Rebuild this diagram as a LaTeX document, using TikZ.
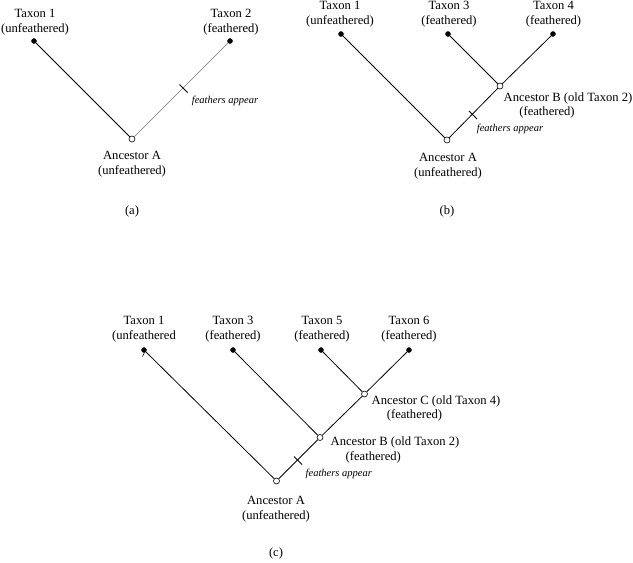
\documentclass[tikz,border=0pt]{standalone}
\usepackage{fontspec}
\setmainfont{Liberation Serif}
\begin{document}
\begin{tikzpicture}[x=1pt,y=-1pt,
  leaf/.style={circle,fill=black,draw=black,inner sep=0pt,minimum size=5pt},
  anc/.style={circle,fill=white,draw=black,line width=0.6pt,inner sep=0pt,minimum size=6pt},
  branch/.style={line width=0.8pt,black},
  lightbranch/.style={line width=0.6pt,black!55},
  tickmark/.style={line width=0.8pt,black},
  lbl/.style={align=center,inner sep=0pt,font=\fontsize{12.6}{15}\selectfont},
  txt/.style={inner sep=0pt,font=\fontsize{12.6}{15}\selectfont},
  feat/.style={inner sep=0pt,font=\fontsize{10.5}{12}\selectfont\itshape}]
\useasboundingbox[fill=white] (0,0) rectangle (633,563);

% ---------- (a) ----------
\node[leaf] (a1) at (34,41) {};
\node[leaf] (a2) at (230,41) {};
\node[anc] (aA) at (132,139) {};
\draw[branch] (aA) -- (a1);
\draw[lightbranch] (aA) -- (a2);
\coordinate (aT1) at (179.5,84.5);
\coordinate (aT2) at (187.5,92.5);
\draw[tickmark] (aT1) -- (aT2);
\node[lbl] (la1) at (35,22) {Taxon 1\\(unfeathered)};
\node[lbl] (la2) at (231,22) {Taxon 2\\(feathered)};
\node[lbl] (laA) at (132,164.5) {Ancestor A\\(unfeathered)};
\node[feat] (laf) at (225,101) {feathers appear};
\node[txt] (capa) at (132,211) {(a)};

% ---------- (b) ----------
\node[leaf] (b1) at (341,34) {};
\node[leaf] (b3) at (448,34) {};
\node[leaf] (b4) at (553,34) {};
\node[anc] (bB) at (500,86) {};
\node[anc] (bA) at (447,140) {};
\draw[branch] (bA) -- (b1);
\draw[branch] (bA) -- (bB);
\draw[branch] (bB) -- (b3);
\draw[branch] (bB) -- (b4);
\coordinate (bT1) at (469,111);
\coordinate (bT2) at (477,119);
\draw[tickmark] (bT1) -- (bT2);
\node[lbl] (lb1) at (340,14.5) {Taxon 1\\(unfeathered)};
\node[lbl] (lb3) at (449,14.5) {Taxon 3\\(feathered)};
\node[lbl] (lb4) at (553.5,14.5) {Taxon 4\\(feathered)};
\node[txt] (lbB1) at (568,98) {Ancestor B (old Taxon 2)};
\node[txt] (lbB2) at (547,112) {(feathered)};
\node[lbl] (lbA) at (448,166.5) {Ancestor A\\(unfeathered)};
\node[feat] (lbf) at (510,129.3) {feathers appear};
\node[txt] (capb) at (447,211) {(b)};

% ---------- (c) ----------
\node[leaf] (c1) at (144,350) {};
\node[leaf] (c3) at (233,350) {};
\node[leaf] (c5) at (321,350) {};
\node[leaf] (c6) at (409,350) {};
\node[anc] (cC) at (364.5,394) {};
\node[anc] (cB) at (320,437.5) {};
\node[anc] (cA) at (276.5,481) {};
\draw[branch] (cA) -- (c1);
\draw[branch] (cA) -- (cB);
\draw[branch] (cB) -- (c3);
\draw[branch] (cB) -- (cC);
\draw[branch] (cC) -- (c5);
\draw[branch] (cC) -- (c6);
\coordinate (cT1) at (294,456.5);
\coordinate (cT2) at (302,464.5);
\draw[tickmark] (cT1) -- (cT2);
\coordinate (cm1) at (144.5,352.5);
\coordinate (cm2) at (142.5,356.5);
\draw[line width=0.6pt] (cm1) -- (cm2);
\node[lbl] (lc1) at (144,329.5) {Taxon 1\\(unfeathered};
\node[lbl] (lc3) at (233,329.5) {Taxon 3\\(feathered)};
\node[lbl] (lc5) at (322,329.5) {Taxon 5\\(feathered)};
\node[lbl] (lc6) at (409,329.5) {Taxon 6\\(feathered)};
\node[txt] (lcC1) at (436,401.7) {Ancestor C (old Taxon 4)};
\node[txt] (lcC2) at (414.5,415.7) {(feathered)};
\node[txt] (lcB1) at (395,442.7) {Ancestor B (old Taxon 2)};
\node[txt] (lcB2) at (373.3,457.7) {(feathered)};
\node[lbl] (lcA) at (276,508.7) {Ancestor A\\(unfeathered)};
\node[feat] (lcf) at (338.8,474.3) {feathers appear};
\node[txt] (capc) at (276,553) {(c)};
\end{tikzpicture}
\end{document}
